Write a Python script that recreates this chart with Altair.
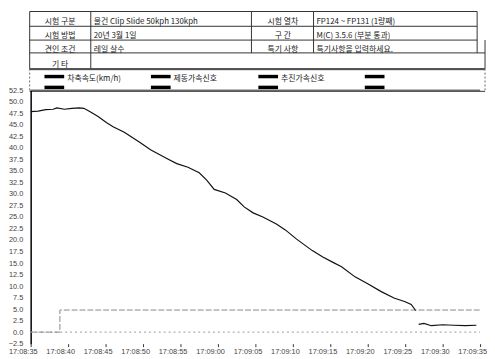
import altair as alt
import pandas as pd

# ---------------- data ----------------
BASE = pd.Timestamp("2020-01-01 17:08:35")

# axle speed (seconds after 17:08:35, km/h); segment 1 = creep after the stop
speed_t = [0, 1, 2, 3, 3.5, 4.5, 5.5, 6.5, 7.1, 8, 9, 10.1, 11, 12.5, 14.6, 16, 18.3,
           19.5, 21, 22.5, 23.5, 24.5, 26, 27.5, 28.5, 29.7, 31, 32.8, 34, 35.5, 37.6,
           39, 40.3, 41.5, 43.3, 45, 46.8, 48.5, 50, 50.8, 51.4,
           51.8, 52.5, 53.5, 55, 56.5, 58, 59.5]
speed_v = [47.9, 48.0, 48.3, 48.4, 48.7, 48.4, 48.6, 48.7, 48.6, 47.8, 46.8, 45.5, 44.6,
           43.4, 41.2, 39.6, 37.6, 36.6, 35.8, 34.6, 33.0, 31.0, 30.2, 28.8, 27.2, 25.9,
           25.0, 23.5, 22.2, 20.2, 17.7, 16.3, 15.2, 14.2, 12.0, 10.5, 8.8, 7.4, 6.6, 6.0, 4.7,
           1.7, 1.9, 1.4, 1.6, 1.5, 1.4, 1.5]
speed_seg = [0] * 41 + [1] * 7

brake_t = [0, 3.9, 60]
brake_v = [0, 4.8, 4.8]
prop_t = [0, 60]
prop_v = [0, 0]

y_ticks = [-2.5, 0.0, 2.5, 5.0, 7.5, 10.0, 12.5, 15.0, 17.5, 20.0, 22.5, 25.0, 27.5,
           30.0, 32.5, 35.0, 37.5, 40.0, 42.5, 45.0, 47.5, 50.0, 52.5]
x_tick_seconds = [0, 5, 10, 15, 20, 25, 30, 35, 40, 45, 50, 55, 60]

legend_labels = ["차축속도(km/h)", "제동가속신호", "추진가속신호", ""]
left_labels = ["시험 구분", "시험 방법", "견인 조건", "기      타"]
left_values = ["물건 Clip Slide 50kph 130kph", "20년 3월 1일", "레일 살수", ""]
right_labels = ["시험 열차", "구      간", "특기 사항"]
right_values = ["FP124 ~ FP131 (1량째)", "M(C) 3.5.6 (부분 통과)", "특기사항을 입력하세요."]

# ---------------- header layout (page pixel coordinates) ----------------
row_mid = [19, 33, 47, 62]

hl = pd.DataFrame({
    "x1": [30, 30, 30, 30, 30, 30, 30],
    "x2": [484, 484, 484, 492, 492, 492, 492],
    "y":  [8, 23, 37, 50, 66, 67, 89],
})
vl = pd.DataFrame({
    "x":  [30, 92, 255, 318, 484, 492, 30, 492],
    "y1": [8, 8, 8, 8, 8, 37, 66, 66],
    "y2": [66, 66, 50, 50, 50, 66, 89, 89],
    "dash": ["s", "s", "s", "s", "s", "s", "d", "d"],
})

lab_df = pd.DataFrame({
    "x": [61] * 4 + [287] * 3,
    "y": row_mid + row_mid[:3],
    "text": left_labels + right_labels,
})
val_df = pd.DataFrame({
    "x": [95] * 4 + [321] * 3,
    "y": row_mid + row_mid[:3],
    "text": left_values + right_values,
})
sw_x = [45, 153, 262, 370]
sw_df = pd.DataFrame({
    "x1": sw_x + sw_x,
    "x2": [v + 20 for v in sw_x] * 2,
    "y": [74] * 4 + [85] * 4,
})
leg_df = pd.DataFrame({"x": [v + 23 for v in sw_x], "y": [77] * 4, "text": legend_labels})

xs = alt.Scale(domain=[31, 490], nice=False, zero=False)
ys = alt.Scale(domain=[8, 88], nice=False, zero=False, reverse=True)

h_rules = alt.Chart(hl).mark_rule(color="#333", strokeWidth=1).encode(
    x=alt.X("x1:Q", scale=xs, axis=None), x2="x2:Q",
    y=alt.Y("y:Q", scale=ys, axis=None))
v_rules = alt.Chart(vl[vl.dash == "s"]).mark_rule(color="#333", strokeWidth=1).encode(
    x=alt.X("x:Q", scale=xs, axis=None),
    y=alt.Y("y1:Q", scale=ys, axis=None), y2="y2:Q")
v_dash = alt.Chart(vl[vl.dash == "d"]).mark_rule(color="#666", strokeWidth=1,
                                                 strokeDash=[2, 2]).encode(
    x=alt.X("x:Q", scale=xs, axis=None),
    y=alt.Y("y1:Q", scale=ys, axis=None), y2="y2:Q")
labels = alt.Chart(lab_df).mark_text(align="center", font="Noto Sans CJK KR",
                                     fontSize=8, color="#222").encode(
    x=alt.X("x:Q", scale=xs, axis=None), y=alt.Y("y:Q", scale=ys, axis=None), text="text:N")
values = alt.Chart(val_df).mark_text(align="left", font="Noto Sans CJK KR",
                                     fontSize=8, color="#222").encode(
    x=alt.X("x:Q", scale=xs, axis=None), y=alt.Y("y:Q", scale=ys, axis=None), text="text:N")
swatches = alt.Chart(sw_df).mark_rule(color="#000", strokeWidth=3.5).encode(
    x=alt.X("x1:Q", scale=xs, axis=None), x2="x2:Q",
    y=alt.Y("y:Q", scale=ys, axis=None))
leg_text = alt.Chart(leg_df).mark_text(align="left", font="Noto Sans CJK KR",
                                       fontSize=8, color="#222").encode(
    x=alt.X("x:Q", scale=xs, axis=None), y=alt.Y("y:Q", scale=ys, axis=None), text="text:N")

header = alt.layer(h_rules, v_rules, v_dash, labels, values, swatches, leg_text).properties(
    width=459, height=80)

# ---------------- plot ----------------
def ts(seconds):
    return BASE + pd.to_timedelta(seconds, unit="s")

speed_df = pd.DataFrame({"time": ts(pd.Series(speed_t)), "v": speed_v, "seg": speed_seg})
brake_df = pd.DataFrame({"time": ts(pd.Series(brake_t)), "v": brake_v})
prop_df = pd.DataFrame({"time": ts(pd.Series(prop_t)), "v": prop_v})

def dt(sec):
    return alt.DateTime(year=2020, month=1, date=1, hours=17,
                        minutes=8 + (35 + sec) // 60, seconds=(35 + sec) % 60)

tx = alt.Scale(domain=[dt(0), dt(60)], nice=False)
ty = alt.Scale(domain=[-2.5, 52.5], nice=False, zero=False)

xaxis = alt.Axis(values=[dt(s) for s in x_tick_seconds], format="%H:%M:%S", title=None,
                 domain=False, ticks=True, tickSize=3, tickColor="#333", grid=False,
                 labelFont="Liberation Sans", labelFontSize=7.5, labelColor="#444",
                 labelAlign="center", labelOffset=-8, labelPadding=1, labelOverlap=False,
                 labelFlush=False)
yaxis = alt.Axis(values=y_ticks, format=".1f", title=None, domain=True, domainColor="#000",
                 domainWidth=1.5, ticks=False, grid=False, labelFont="Liberation Sans",
                 labelFontSize=7.5, labelColor="#444", labelPadding=8, labelOverlap=False,
                 labelFlush=False)

prop_line = alt.Chart(prop_df).mark_line(color="#999", strokeWidth=1, strokeDash=[2, 3]).encode(
    x=alt.X("time:T", scale=tx, axis=xaxis), y=alt.Y("v:Q", scale=ty, axis=yaxis))
brake_line = alt.Chart(brake_df).mark_line(color="#888", strokeWidth=1, strokeDash=[6, 2],
                                           interpolate="step-after").encode(
    x=alt.X("time:T", scale=tx, axis=xaxis), y=alt.Y("v:Q", scale=ty, axis=yaxis))
speed_line = alt.Chart(speed_df).mark_line(color="#111", strokeWidth=1.2).encode(
    x=alt.X("time:T", scale=tx, axis=xaxis), y=alt.Y("v:Q", scale=ty, axis=yaxis),
    detail="seg:N")
top_rule = alt.Chart(prop_df).mark_rule(color="#666", strokeWidth=1.2).encode(
    y=alt.value(0))

plot = alt.layer(prop_line, brake_line, speed_line, top_rule).properties(width=456, height=257)

chart = alt.vconcat(header, plot, spacing=0, bounds="flush").properties(
    padding=0, background="white").configure_view(stroke=None).configure_axis(
    labelOverlap=False)

chart.save("out.html", embed_options={"renderer": "svg", "actions": False})
